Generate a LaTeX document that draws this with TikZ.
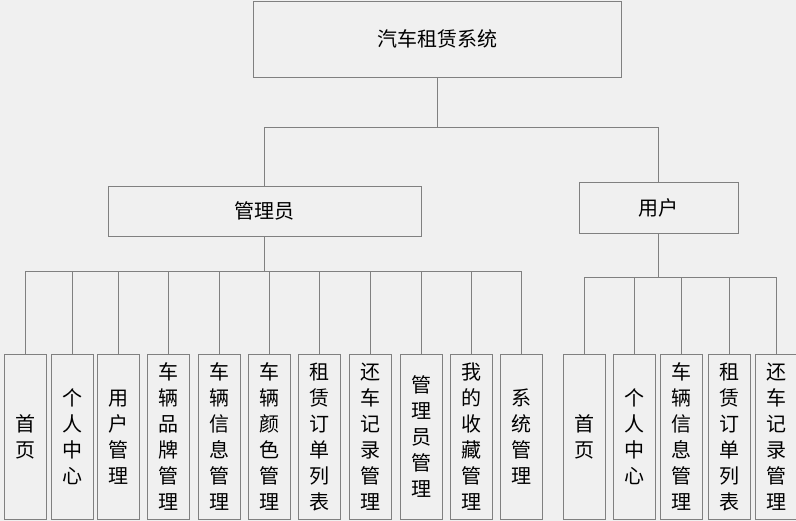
\documentclass[tikz,border=0pt]{standalone}
\usepackage{fontspec}
\newfontfamily\cjk{Noto Sans CJK SC}
\definecolor{bg}{HTML}{F0F0F0}
\definecolor{edge}{HTML}{808080}
\tikzset{
  box/.style={draw=edge, fill=bg, line width=0.9pt, inner sep=0pt, font=\cjk\fontsize{20}{24}\selectfont},
  leaf/.style={box, anchor=north, minimum width=42pt, minimum height=165pt, align=center, font=\cjk\fontsize{20}{26}\selectfont},
  link/.style={draw=edge, line width=0.9pt}
}
\begin{document}
\begin{tikzpicture}[x=1pt,y=-1pt]
    \fill[bg] (0,0) rectangle (796,521);
    \useasboundingbox (0,0) rectangle (796,521);
    % upper levels
    \node[box, minimum width=368pt, minimum height=76pt] (root) at (437,39) {汽车租赁系统};
    \node[box, minimum width=313pt, minimum height=50pt] (admin) at (264.5,211) {管理员};
    \node[box, minimum width=159pt, minimum height=51pt] (user) at (658.5,207.5) {用户};
    \draw[link] (root.south) -- (root.south |- 0,127) -| (admin.north);
    \draw[link] (root.south) -- (root.south |- 0,127) -| (user.north);
    % leaves of admin
    \foreach \x/\lbl [count=\i] in {25.5/首\\页, 72/个\\人\\中\\心, 118/用\\户\\管\\理,
        168.5/车\\辆\\品\\牌\\管\\理, 219/车\\辆\\信\\息\\管\\理, 269/车\\辆\\颜\\色\\管\\理,
        319.5/租\\赁\\订\\单\\列\\表, 370/还\\车\\记\\录\\管\\理, 421/管\\理\\员\\管\\理,
        471/我\\的\\收\\藏\\管\\理, 521.5/系\\统\\管\\理}
        \node[leaf] (a\i) at (\x,354) {\lbl};
    \foreach \i in {1,...,11}
        \draw[link] (admin.south) -- (admin.south |- 0,271.5) -| (a\i.north);
    % leaves of user
    \foreach \x/\lbl [count=\i] in {584/首\\页, 634/个\\人\\中\\心, 681/车\\辆\\信\\息\\管\\理,
        729/租\\赁\\订\\单\\列\\表, 776/还\\车\\记\\录\\管\\理}
        \node[leaf] (u\i) at (\x,354) {\lbl};
    \foreach \i in {1,...,5}
        \draw[link] (user.south) -- (user.south |- 0,277) -| (u\i.north);
\end{tikzpicture}
\end{document}
